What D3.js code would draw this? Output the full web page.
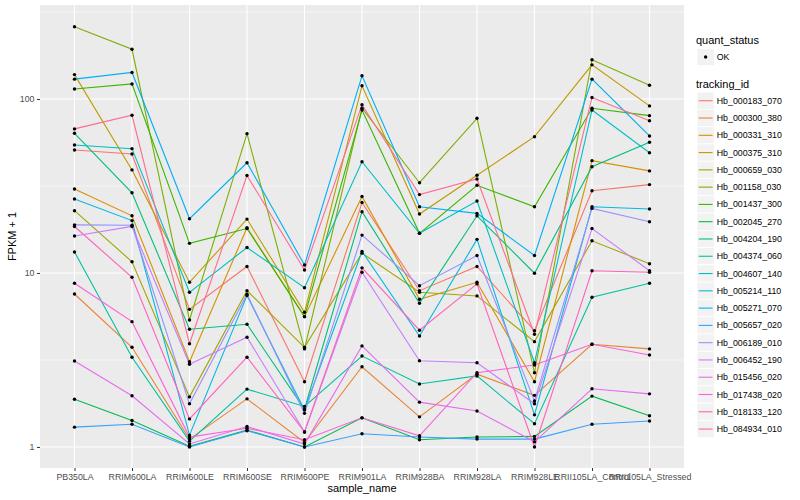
<!DOCTYPE html>
<html>
<head>
<meta charset="utf-8">
<script src="https://cdn.jsdelivr.net/npm/d3@7"></script>
<style>
body { margin: 0; background: #fff; }
svg text { font-family: 'Liberation Sans', Arial, Helvetica, sans-serif; }
</style>
</head>
<body>
<script>
// samples on the x axis
const samples = ['PB350LA', 'RRIM600LA', 'RRIM600LE', 'RRIM600SE', 'RRIM600PE', 'RRIM901LA',
    'RRIM928BA', 'RRIM928LA', 'RRIM928LE', 'RRII105LA_Control', 'RRII105LA_Stressed'];

const trackingIds = ['Hb_000183_070', 'Hb_000300_380', 'Hb_000331_310', 'Hb_000375_310', 'Hb_000659_030',
    'Hb_001158_030', 'Hb_001437_300', 'Hb_002045_270', 'Hb_004204_190', 'Hb_004374_060',
    'Hb_004607_140', 'Hb_005214_110', 'Hb_005271_070', 'Hb_005657_020', 'Hb_006189_010',
    'Hb_006452_190', 'Hb_015456_020', 'Hb_017438_020', 'Hb_018133_120', 'Hb_084934_010'];

const quantStatus = ['OK'];

// FPKM + 1, one value per sample
const Hb_000183_070 = [50.9, 48.3, 6.18, 10.9, 2.37, 25.4, 7.91, 10.9, 4.66, 29.7, 32.2];
const Hb_000300_380 = [7.57, 3.74, 1.11, 1.89, 1.06, 2.89, 1.49, 2.62, 1.98, 3.89, 3.66];
const Hb_000331_310 = [30.4, 21.3, 3.09, 18.2, 5.61, 27.5, 7.06, 8.84, 2.37, 44.2, 38.6];
const Hb_000375_310 = [138, 39.1, 8.84, 20.4, 5.94, 119, 21.8, 36.4, 60.7, 157, 91.2];
const Hb_000659_030 = [22.8, 11.6, 1.94, 7.91, 3.74, 13.0, 7.74, 7.38, 4.03, 15.3, 11.3];
const Hb_001158_030 = [260, 193, 5.37, 63.2, 3.66, 88.4, 33.0, 77.4, 2.67, 168, 120];
const Hb_001437_300 = [114, 122, 14.8, 18.0, 5.61, 86.4, 16.9, 31.9, 24.0, 88.4, 80.2];
const Hb_002045_270 = [1.88, 1.42, 1.01, 1.25, 1.00, 1.47, 1.10, 1.14, 1.15, 1.96, 1.51];
const Hb_004204_190 = [63.5, 28.9, 4.75, 5.07, 1.65, 22.5, 6.70, 21.3, 9.96, 40.8, 56.4];
const Hb_004374_060 = [13.2, 3.28, 1.08, 2.15, 1.71, 3.33, 2.30, 2.56, 1.36, 7.25, 8.73];
const Hb_004607_140 = [54.4, 51.8, 7.74, 14.0, 8.23, 43.6, 16.9, 25.9, 3.05, 86.4, 49.1];
const Hb_005214_110 = [26.6, 20.0, 1.17, 7.41, 1.63, 13.3, 4.34, 15.6, 1.53, 24.0, 23.3];
const Hb_005271_070 = [130, 142, 20.5, 43.0, 11.1, 136, 24.0, 22.0, 12.6, 130, 61.3];
const Hb_005657_020 = [1.30, 1.35, 1.00, 1.24, 1.00, 1.19, 1.14, 1.11, 1.11, 1.35, 1.41];
const Hb_006189_010 = [18.9, 18.8, 1.77, 7.54, 1.56, 16.5, 8.45, 12.6, 1.84, 23.5, 19.7];
const Hb_006452_190 = [16.3, 18.5, 2.99, 4.27, 1.22, 10.1, 3.13, 3.05, 1.77, 18.0, 10.3];
const Hb_015456_020 = [3.12, 1.97, 1.04, 1.31, 1.04, 3.81, 1.81, 1.61, 1.07, 2.16, 2.02];
const Hb_017438_020 = [8.73, 5.25, 1.14, 1.28, 1.10, 1.47, 1.16, 2.67, 2.96, 3.89, 3.38];
const Hb_018133_120 = [18.5, 9.45, 1.45, 3.28, 1.22, 10.7, 4.69, 8.65, 1.00, 10.3, 10.1];
const Hb_084934_010 = [67.3, 80.6, 3.92, 36.3, 10.4, 92.7, 28.2, 34.7, 4.44, 102, 75.0];

const yBreaks = [1, 10, 100];
const yMinorBreaks = [3.16, 31.6, 316];

const series = [Hb_000183_070, Hb_000300_380, Hb_000331_310, Hb_000375_310, Hb_000659_030,
    Hb_001158_030, Hb_001437_300, Hb_002045_270, Hb_004204_190, Hb_004374_060,
    Hb_004607_140, Hb_005214_110, Hb_005271_070, Hb_005657_020, Hb_006189_010,
    Hb_006452_190, Hb_015456_020, Hb_017438_020, Hb_018133_120, Hb_084934_010];

const byId = trackingIds.map((id, i) => {
    return {
        id: id,
        values: samples.map((s, j) => { return { sample: s, fpkm: series[i][j], status: quantStatus[0] } })
    }
});
const points = byId.flatMap(d => d.values);

// ggplot default hue palette for 20 levels
const palette = ['#F8766D', '#EA8331', '#D89000', '#C09B00', '#A3A500', '#7CAE00', '#39B600', '#00BB4E',
    '#00BF7D', '#00C1A3', '#00BFC4', '#00BAE0', '#00B0F6', '#35A2FF', '#9590FF', '#C77CFF',
    '#E76BF3', '#FA62DB', '#FF62BC', '#FF6C91'];

const W = 800, H = 500;
const panel = { left: 40, right: 684, top: 5, bottom: 468 };
const axisText = '#4D4D4D';

const xScale = d3.scalePoint()
    .domain(samples)
    .range([panel.left, panel.right])
    .padding(0.6);
const yScale = d3.scaleLog()
    .domain([0.757, 346.7])
    .range([panel.bottom, panel.top]);
const zScale = d3.scaleOrdinal(palette).domain(trackingIds);

const svg = d3.select('body').append('svg')
    .attr('width', W)
    .attr('height', H);

// panel background
svg.append('rect')
    .attr('x', panel.left)
    .attr('y', panel.top)
    .attr('width', panel.right - panel.left)
    .attr('height', panel.bottom - panel.top)
    .attr('fill', '#EBEBEB');

// gridlines
svg.append('g')
    .attr('class', 'grid-minor')
    .selectAll('line')
    .data(yMinorBreaks)
    .enter().append('line')
    .attr('x1', panel.left).attr('x2', panel.right)
    .attr('y1', d => yScale(d)).attr('y2', d => yScale(d))
    .attr('stroke', '#fff').attr('stroke-width', 0.55);
svg.append('g')
    .attr('class', 'grid-major')
    .selectAll('line')
    .data(yBreaks)
    .enter().append('line')
    .attr('x1', panel.left).attr('x2', panel.right)
    .attr('y1', d => yScale(d)).attr('y2', d => yScale(d))
    .attr('stroke', '#fff').attr('stroke-width', 1.1);
svg.append('g')
    .attr('class', 'grid-major')
    .selectAll('line')
    .data(samples)
    .enter().append('line')
    .attr('x1', d => xScale(d)).attr('x2', d => xScale(d))
    .attr('y1', panel.top).attr('y2', panel.bottom)
    .attr('stroke', '#fff').attr('stroke-width', 1.1);

// axes
const xAxis = d3.axisBottom(xScale).tickSize(3).tickPadding(2.5);
const yAxis = d3.axisLeft(yScale).tickValues(yBreaks).tickFormat(d3.format('d')).tickSize(3).tickPadding(2.5);

const gx = svg.append('g')
    .attr('transform', 'translate(0,' + panel.bottom + ')')
    .call(xAxis);
const gy = svg.append('g')
    .attr('transform', 'translate(' + panel.left + ',0)')
    .call(yAxis);
[gx, gy].forEach(g => {
    g.select('.domain').remove();
    g.selectAll('line').attr('stroke', '#333333');
    g.selectAll('text')
        .attr('fill', axisText)
        .style('font-size', '8.8px')
        .style('font-family', "'Liberation Sans', Arial, sans-serif");
});

// axis titles
svg.append('text')
    .attr('x', (panel.left + panel.right) / 2)
    .attr('y', 491.5)
    .attr('text-anchor', 'middle')
    .style('font-size', '11px')
    .text('sample_name');
svg.append('text')
    .attr('transform', 'translate(16,' + ((panel.top + panel.bottom) / 2) + ') rotate(-90)')
    .attr('text-anchor', 'middle')
    .style('font-size', '11px')
    .text('FPKM + 1');

// lines by tracking id
const line = d3.line()
    .x(d => xScale(d.sample))
    .y(d => yScale(d.fpkm));
svg.append('g')
    .selectAll('path')
    .data(byId)
    .enter().append('path')
    .attr('d', d => line(d.values))
    .attr('fill', 'none')
    .attr('stroke', d => zScale(d.id))
    .attr('stroke-width', 1.1);

// points
svg.append('g')
    .selectAll('circle')
    .data(points)
    .enter().append('circle')
    .attr('cx', d => xScale(d.sample))
    .attr('cy', d => yScale(d.fpkm))
    .attr('r', 1.7)
    .attr('fill', '#000');

// legends
const key = 17.28;
const legendX = 697;

const lq = svg.append('g').attr('class', 'legend');
lq.append('text')
    .attr('x', 696).attr('y', 44)
    .style('font-size', '11px')
    .text('quant_status');
const lqItems = lq.selectAll('.item')
    .data(quantStatus)
    .enter().append('g')
    .attr('class', 'item')
    .attr('transform', (d, i) => 'translate(' + legendX + ',' + (48.4 + i * key) + ')');
lqItems.append('rect')
    .attr('width', key).attr('height', key)
    .attr('fill', '#F2F2F2').attr('stroke', '#fff').attr('stroke-width', 0.8);
lqItems.append('circle')
    .attr('cx', key / 2).attr('cy', key / 2).attr('r', 1.7)
    .attr('fill', '#000');
lqItems.append('text')
    .attr('x', key + 2.5).attr('y', key / 2)
    .attr('dy', '0.35em')
    .style('font-size', '8.8px')
    .text(d => d);

const lt = svg.append('g').attr('class', 'legend');
lt.append('text')
    .attr('x', 696).attr('y', 87.5)
    .style('font-size', '11px')
    .text('tracking_id');
const ltItems = lt.selectAll('.item')
    .data(trackingIds)
    .enter().append('g')
    .attr('class', 'item')
    .attr('transform', (d, i) => 'translate(' + legendX + ',' + (92.1 + i * key) + ')');
ltItems.append('rect')
    .attr('width', key).attr('height', key)
    .attr('fill', '#F2F2F2').attr('stroke', '#fff').attr('stroke-width', 0.8);
ltItems.append('line')
    .attr('x1', 1.7).attr('x2', key - 1.7)
    .attr('y1', key / 2).attr('y2', key / 2)
    .attr('stroke', d => zScale(d))
    .attr('stroke-width', 1.1);
ltItems.append('text')
    .attr('x', key + 2.5).attr('y', key / 2)
    .attr('dy', '0.35em')
    .style('font-size', '8.8px')
    .text(d => d);
</script>
</body>
</html>
